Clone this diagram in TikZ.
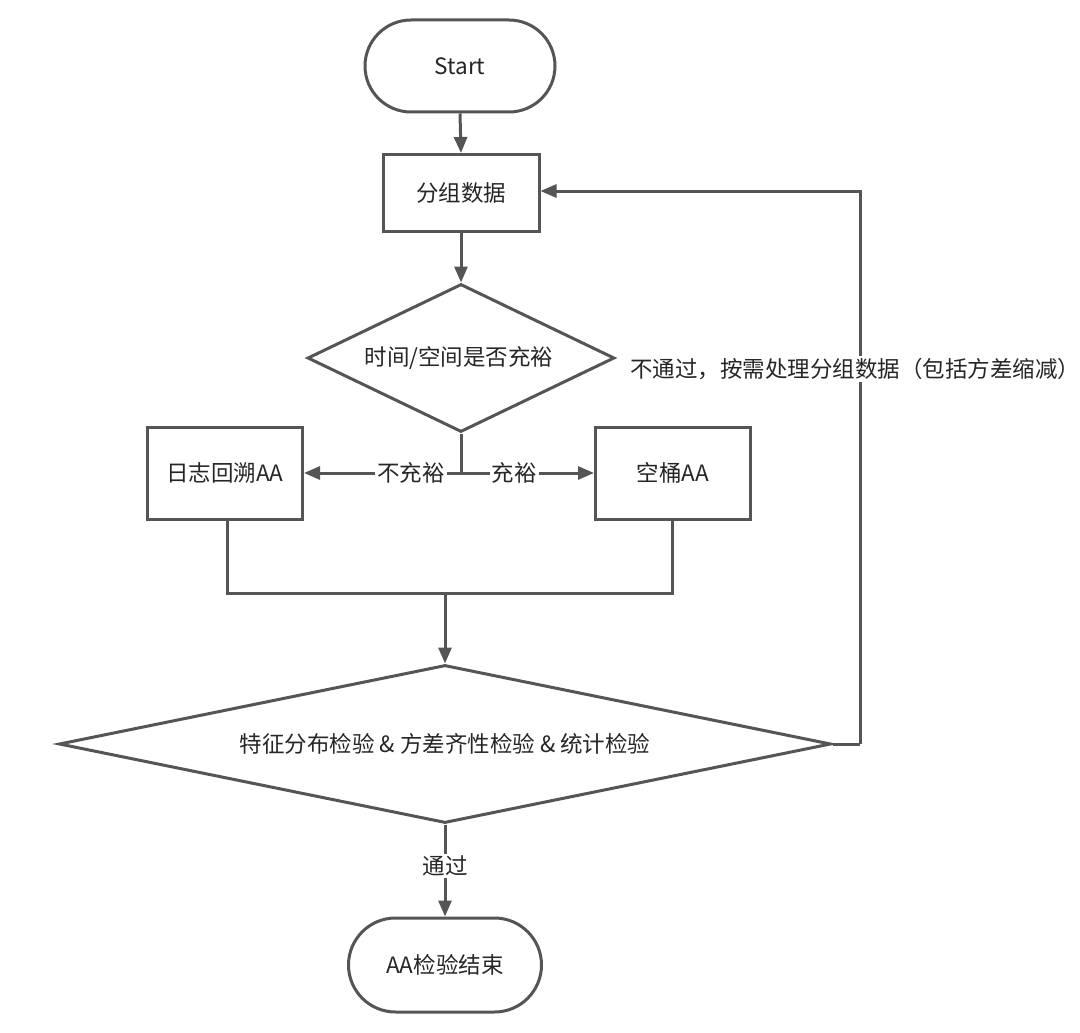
\documentclass[tikz,border=0pt]{standalone}
\usepackage{fontspec}
\setmainfont{Noto Sans CJK SC}
\usetikzlibrary{shapes.geometric,shapes.misc,arrows.meta}
\definecolor{ln}{HTML}{555555}
\definecolor{tx}{HTML}{262626}
\tikzset{
  txt/.style={text=tx, font=\fontsize{22.5}{26}\selectfont},
  base/.style={draw=ln, line width=3pt, fill=white, txt, inner sep=0pt},
  term/.style={base, rounded rectangle, minimum width=190pt, minimum height=92pt},
  proc/.style={base, rectangle, minimum width=155pt, minimum height=92pt},
  dec/.style={base, diamond},
  conn/.style={draw=ln, line width=3pt, -{Triangle[length=16pt,width=13pt]}},
  plain/.style={draw=ln, line width=3pt},
  lbl/.style={fill=white, txt, inner sep=2pt}
}
\begin{document}
\begin{tikzpicture}[x=1pt,y=-1pt]
\useasboundingbox (0,0) rectangle (1080,1033);
\node[term] (start) at (460,66) {Start};
\node[proc, minimum width=156pt, minimum height=77pt] (grp) at (461,193) {分组数据};
\node[dec, minimum width=307pt, minimum height=148pt, aspect=2.07] (d1) at (461,358) {};
\node[txt] at (459,358) {时间/空间是否充裕};
\node[proc] (log) at (225,473) {日志回溯AA};
\node[proc] (empty) at (673,473) {空桶AA};
\node[dec, minimum width=772pt, minimum height=158pt, aspect=4.9] (d2) at (445,744) {};
\node[txt] at (445,744) {特征分布检验 \& 方差齐性检验 \& 统计检验};
\node[term, minimum width=193pt, minimum height=94pt] (end) at (445,965) {AA检验结束};

\coordinate (split) at (461,473);
\coordinate (jl) at (227,593);
\coordinate (jr) at (672,593);
\coordinate (jm) at (445,593);
\coordinate (rb) at (860,744);
\coordinate (rt) at (860,191);

\draw[conn] (start.south) -- (grp.north);
\draw[conn] (grp.south) -- (grp.south |- d1.north);
\draw[plain] (d1.south) -- (split);
\draw[conn] (split) -- node[lbl, pos=0.32]{不充裕} (log.east);
\draw[conn] (split) -- node[lbl, pos=0.4]{充裕} (empty.west);
\draw[plain] (log.south -| jl) -- (jl) -- (jr) -- (empty.south -| jr);
\draw[conn] (jm) -- (d2.north);
\draw[plain] (d2.east) -- (rb);
\draw[conn] (rb) -- node[lbl, pos=0.678, xshift=-5pt]{不通过，按需处理分组数据（包括方差缩减）} (rt) -- (grp.east |- rt);
\draw[conn] (d2.south) -- node[lbl, pos=0.45]{通过} (end.north);
\end{tikzpicture}
\end{document}
